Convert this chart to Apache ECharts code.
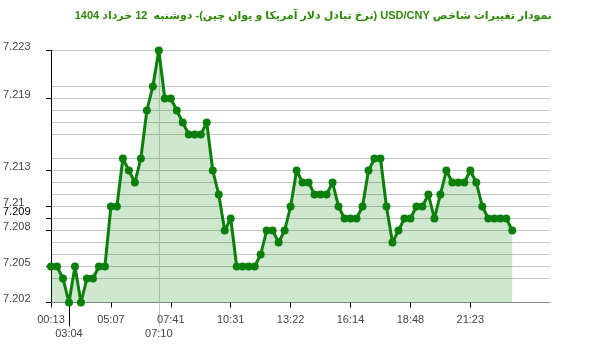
<!DOCTYPE html>
<html><head><meta charset="utf-8">
<script src="https://cdn.jsdelivr.net/npm/echarts@6/dist/echarts.min.js"></script>
<style>html,body{margin:0;padding:0;background:#fff}#c{width:600px;height:352px}</style>
</head><body><div id="c"></div>
<script>
const titleText = 'نمودار تغییرات شاخص USD/CNY (نرخ تبادل دلار آمریکا و یوان چین)- دوشنبه  12 خرداد 1404';

const values = [
  7.205,7.205,7.204,7.202,7.205,7.202,7.204,7.204,7.205,7.205,
  7.210,7.210,7.214,7.213,7.212,7.214,7.218,7.220,7.223,7.219,
  7.219,7.218,7.217,7.216,7.216,7.216,7.217,7.213,7.211,7.208,
  7.209,7.205,7.205,7.205,7.205,7.206,7.208,7.208,7.207,7.208,
  7.210,7.213,7.212,7.212,7.211,7.211,7.211,7.212,7.210,7.209,
  7.209,7.209,7.210,7.213,7.214,7.214,7.210,7.207,7.208,7.209,
  7.209,7.210,7.210,7.211,7.209,7.211,7.213,7.212,7.212,7.212,
  7.213,7.212,7.210,7.209,7.209,7.209,7.209,7.208
];

const xTickIndex = [0,10,20,30,40,50,60,70];
const xTickLabels = ['00:13','05:07','07:41','10:31','13:22','16:14','18:48','21:23'];
const minIndex = [3];
const minLabels = ['03:04'];
const maxIndex = [18];
const maxLabels = ['07:10'];

const yLabelValues = [7.202,7.205,7.208,7.209,7.21,7.213,7.219,7.223];
const yLabelTexts = ['7.202','7.205','7.208','7.209','7.21','7.213','7.219','7.223'];
const highlightLabel = '7.209';
const yMin = 7.202, yMax = 7.223;
const xMin = 0, xMax = 83.3;

const gridValues = Array.from(new Set(values)).sort((a,b)=>a-b);
const seriesData = values.map((v,i)=>[i,v]);

function nearestIdx(arr, v){
  let b=0, d=Infinity;
  arr.forEach((a,i)=>{const e=Math.abs(a-v); if(e<d){d=e;b=i;}});
  return b;
}

const labelFont = {fontFamily:'Liberation Sans, Arial, sans-serif', fontSize:11, color:'#444'};

const chart = echarts.init(document.getElementById('c'), null, {renderer:'canvas'});
chart.setOption({
  animation:false,
  backgroundColor:'#fff',
  title:{
    text:'\u202B'+titleText+'\u202C',
    right:43, top:5,
    textStyle:{color:'#2f8a0a', fontWeight:'bold', fontSize:11, fontFamily:'Liberation Sans, DejaVu Sans, sans-serif'}
  },
  grid:{left:50, right:50, top:50.5, bottom:49.5, containLabel:false},
  xAxis:[
    {
      type:'value', min:xMin, max:xMax,
      axisLine:{show:true, lineStyle:{color:'#888', width:1}},
      axisTick:{show:true, customValues:xTickIndex, length:5, lineStyle:{color:'#000'}},
      axisLabel:{show:true, customValues:xTickIndex, margin:12, ...labelFont,
        formatter:v=>xTickLabels[nearestIdx(xTickIndex,v)]},
      splitLine:{show:false}
    },
    {
      type:'value', min:xMin, max:xMax, position:'bottom',
      axisLine:{show:false},
      axisTick:{show:true, customValues:minIndex, length:24, lineStyle:{color:'#000'}},
      axisLabel:{show:true, customValues:minIndex, margin:26, ...labelFont,
        formatter:v=>minLabels[nearestIdx(minIndex,v)]},
      splitLine:{show:false}
    },
    {
      type:'value', min:xMin, max:xMax, position:'bottom',
      axisLine:{show:false},
      axisTick:{show:true, customValues:maxIndex, length:24, lineStyle:{color:'#ccc'}},
      axisLabel:{show:true, customValues:maxIndex, margin:26, ...labelFont,
        formatter:v=>maxLabels[nearestIdx(maxIndex,v)]},
      splitLine:{show:true, lineStyle:{color:'#ccc', width:1}}
    }
  ],
  yAxis:[
    {
      type:'value', min:yMin, max:yMax,
      axisLine:{show:false},
      axisTick:{show:false, customValues:gridValues},
      axisLabel:{show:false},
      splitLine:{show:true, lineStyle:{color:'#c4c4c4', width:1}}
    },
    {
      type:'value', min:yMin, max:yMax, position:'left',
      axisLine:{show:true, lineStyle:{color:'#000', width:1}},
      axisTick:{show:true, customValues:yLabelValues, length:5, lineStyle:{color:'#000'}},
      axisLabel:{show:true, customValues:yLabelValues, margin:48, align:'left', padding:[0,0,7,0], ...labelFont,
        formatter:v=>{const t=yLabelTexts[nearestIdx(yLabelValues,v)]; return t===highlightLabel?'{h|'+t+'}':t;},
        rich:{h:{color:'#000', fontFamily:'Liberation Sans, Arial, sans-serif', fontSize:11, padding:[0,0,7,0]}}},
      splitLine:{show:false}
    }
  ],
  series:[{
    type:'line',
    xAxisIndex:0, yAxisIndex:0,
    data:seriesData,
    symbol:'circle', symbolSize:8,
    itemStyle:{color:'#0a800a'},
    lineStyle:{color:'#0a800a', width:3},
    areaStyle:{color:'#008000', opacity:0.19},
    z:3
  }]
});
</script></body></html>
